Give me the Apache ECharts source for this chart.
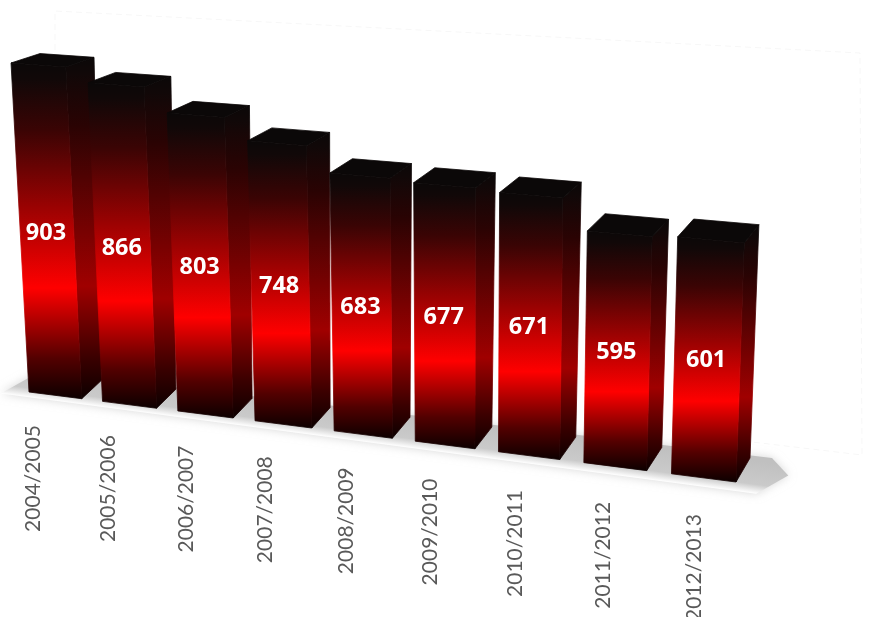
<!DOCTYPE html>
<html><head><meta charset="utf-8">
<style>html,body{margin:0;padding:0;background:#fff}#c{width:874px;height:617px}</style>
<script src="https://cdn.jsdelivr.net/npm/echarts@6/dist/echarts.min.js"></script>
</head><body><div id="c"></div>
<script>
const categories = ['2004/2005','2005/2006','2006/2007','2007/2008','2008/2009','2009/2010','2010/2011','2011/2012','2012/2013'];
const values = [903,866,803,748,683,677,671,595,601];

// Camera: where the unit square of the plot lands, for the front and back planes of the bars
const frontPlane = [[29,392],[736,482],[750,76],[9,26]];
const backPlane  = [[49,374],[750,458],[765,64],[39,18]];
const barShare = 0.72;
const edge = (1 - barShare) / 2 / categories.length;
const labelStretch = 660 / 652;

function homography(q){
  const [x0,y0]=q[0],[x1,y1]=q[1],[x2,y2]=q[2],[x3,y3]=q[3];
  const dx1=x1-x2,dx2=x3-x2,sx=x0-x1+x2-x3,dy1=y1-y2,dy2=y3-y2,sy=y0-y1+y2-y3;
  const den=dx1*dy2-dx2*dy1;
  const g=(sx*dy2-dx2*sy)/den,h=(dx1*sy-sx*dy1)/den;
  const a=x1-x0+g*x1,b=x3-x0+h*x3,d=y1-y0+g*y1,e=y3-y0+h*y3;
  return (u,v)=>{const w=g*u+h*v+1;return [(a*u+b*v+x0)/w,(d*u+e*v+y0)/w];};
}
const F=homography(frontPlane),B=homography(backPlane);
function project(u,v,t){
  const n=(u-edge)/(1-2*edge),f=F(n,v),b=B(n,v);
  return [f[0]+t*(b[0]-f[0]),f[1]+t*(b[1]-f[1])];
}
function shade(peak,low,lower){
  return {type:'linear',x:0,y:0,x2:0,y2:1,colorStops:[
    {offset:0,color:'#0b0808'},{offset:0.05,color:'#110808'},{offset:0.2,color:low},
    {offset:0.67,color:peak},{offset:0.88,color:lower},{offset:1,color:'#0c0000'}]};
}
function renderBar(params,api){
  const i=api.value(0),val=api.value(1),cs=params.coordSys;
  const c=api.coord([i,val]),band=api.size([1,0])[0]*barShare;
  const l=(c[0]-band/2-cs.x)/cs.width,r=(c[0]+band/2-cs.x)/cs.width,m=(l+r)/2;
  const v=(cs.y+cs.height-c[1])/cs.height;
  const poly=(pts,fill)=>({type:'polygon',shape:{points:pts},style:{fill:fill,stroke:fill,lineWidth:0.8}});
  const mid=project(m,v/2,0),lab=project(m,-0.032,-1);
  return {type:'group',children:[
    poly([project(r,v,0),project(r,v,1),project(r,0,1),project(r,0,0)],shade('#a00000','#2a0303','#3a0000')),
    poly([project(l,v,0),project(r,v,0),project(r,v,1),project(l,v,1)],'#0b0808'),
    poly([project(l,v,0),project(r,v,0),project(r,0,0),project(l,0,0)],shade('#ff0000','#3a0404','#520000')),
    {type:'text',x:mid[0]-1,y:mid[1],style:{text:String(val),fill:'#fff',font:'bold 23.5px "Open Sans", Lato, sans-serif',textAlign:'center',textVerticalAlign:'middle'}},
    {type:'text',x:lab[0]*labelStretch-3.4,y:lab[1],rotation:Math.PI/2,
     style:{text:categories[i],fill:'#595959',font:'21px Lato, "Open Sans", sans-serif',textAlign:'right',textVerticalAlign:'middle'}}
  ]};
}
function renderFloor(params,api){
  const a=project(-0.02,0,-0.25),b=project(1.015,0,-0.35),tip=project(1.04,0,0.5),c2=project(1.01,0,1.1),d=project(0,0,1.1);
  const ex=b[0]-a[0],ey=b[1]-a[1],len=Math.hypot(ex,ey),nx=-ey/len,ny=ex/len;
  const sx=(c2[0]+d[0])/2,sy=(c2[1]+d[1])/2;
  const dist=((a[0]+b[0])/2-sx)*nx+((a[1]+b[1])/2-sy)*ny;
  return {type:'polygon',shape:{points:[a,b,tip,c2,d]},style:{
    fill:{type:'linear',global:true,x:sx,y:sy,x2:sx+nx*dist,y2:sy+ny*dist,colorStops:[
      {offset:0,color:'#c0c0c0'},{offset:0.72,color:'#cacaca'},{offset:1,color:'#ffffff'}]},
    shadowBlur:10,shadowColor:'rgba(190,190,190,0.6)'}};
}
const chart=echarts.init(document.getElementById('c'),null,{renderer:'canvas'});
chart.setOption({
  animation:false,
  grid:{left:0,right:0,top:0,bottom:0},
  xAxis:{type:'category',data:categories,show:false},
  yAxis:{type:'value',min:0,max:1000,show:false},
  graphic:[{type:'polyline',silent:true,z:0,shape:{points:[[55,50],[55,11],[860,53],[862,455],[752,442]]},
    style:{fill:'none',stroke:'#f7f7f7',lineWidth:1,lineDash:[6,4]}}],
  series:[
    {type:'custom',z:1,clip:false,silent:true,coordinateSystem:'cartesian2d',data:[[0,0]],renderItem:renderFloor},
    {type:'custom',z:2,clip:false,coordinateSystem:'cartesian2d',data:values.map((v,i)=>[i,v]),encode:{x:0,y:1},renderItem:renderBar}
  ]
});
</script></body></html>
